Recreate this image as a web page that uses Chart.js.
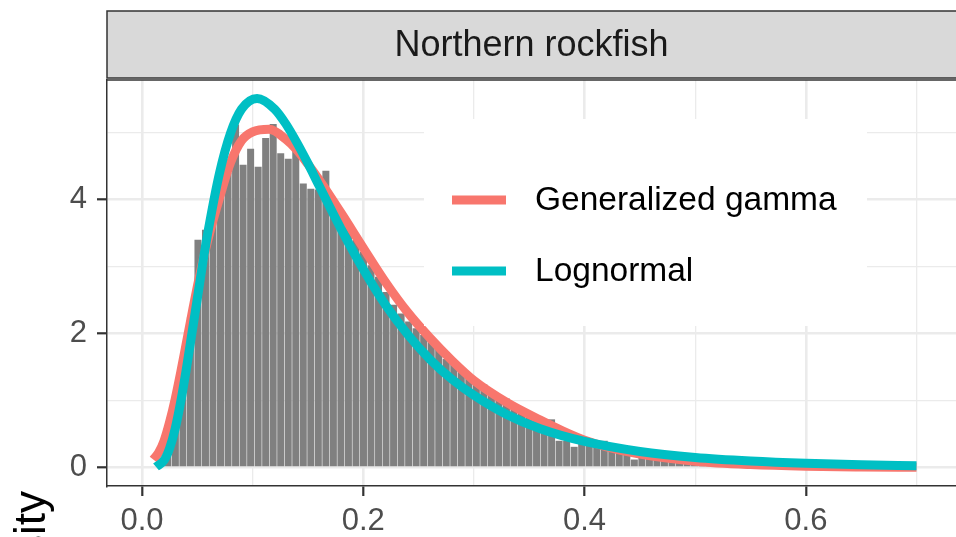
<!DOCTYPE html>
<html>
<head>
<meta charset="utf-8">
<script src="https://cdn.jsdelivr.net/npm/chart.js@4.4.0/dist/chart.umd.min.js"></script>
<style>
  html, body { margin: 0; padding: 0; background: #fff; }
  #wrap { width: 956px; height: 537px; }
</style>
</head>
<body>
<div id="wrap"><canvas id="densityChart" width="956" height="537"></canvas></div>
<script>
// histogram: first bin centre and bin width (x units), then densities per bin
const binStart = 0.0166;
const binWidth = 0.0068;
const densityHist = [
  0.05, 0.40, 0.95, 1.55, 2.25, 3.40, 3.55, 3.95, 4.25, 4.40,
  5.12, 4.52, 4.76, 4.49, 4.92, 5.13, 4.69, 4.61, 4.75, 4.24,
  4.16, 4.15, 4.43, 3.95, 3.80, 3.62, 3.40, 3.22, 3.02, 2.85,
  2.62, 2.43, 2.30, 2.18, 2.08, 1.98, 1.94, 1.80, 1.62, 1.59,
  1.45, 1.38, 1.30, 1.24, 1.13, 1.04, 1.03, 0.91, 0.84, 0.80,
  0.78, 0.72, 0.72, 0.40, 0.40, 0.31, 0.36, 0.44, 0.40, 0.40,
  0.30, 0.27, 0.24, 0.12, 0.20, 0.17, 0.15, 0.13, 0.11, 0.10,
  0.08, 0.07, 0.06, 0.05, 0.04, 0.04, 0.03, 0.03, 0.02, 0.02,
  0.02, 0.01, 0.01, 0.01, 0.01, 0.01, 0.01, 0.01, 0.00, 0.01,
  0.00, 0.00, 0.01, 0.00, 0.00, 0.00, 0.00, 0.00, 0.00, 0.00,
  0.00
];

// fitted curves
const gammaX = [0.0102, 0.015, 0.02, 0.025, 0.03, 0.035, 0.04, 0.045, 0.05, 0.055,
  0.06, 0.07, 0.08, 0.09, 0.10, 0.115, 0.13, 0.14, 0.15, 0.16, 0.18, 0.20,
  0.22, 0.24, 0.26, 0.28, 0.30, 0.33, 0.36, 0.38, 0.40, 0.42, 0.45, 0.50, 0.55, 0.60, 0.65, 0.70];
const gammaY = [0.12, 0.22, 0.40, 0.68, 1.02, 1.42, 1.85, 2.28, 2.70, 3.08,
  3.43, 4.02, 4.55, 4.88, 5.01, 5.05, 4.90, 4.74, 4.53, 4.30, 3.80, 3.28,
  2.77, 2.32, 1.94, 1.60, 1.30, 0.97, 0.71, 0.55, 0.41, 0.31, 0.20, 0.095, 0.045, 0.02, 0.009, 0.004];

const lognormX = [0.0127, 0.02, 0.025, 0.03, 0.035, 0.04, 0.045, 0.05, 0.055, 0.06,
  0.07, 0.08, 0.09, 0.104, 0.12, 0.13, 0.14, 0.15, 0.16, 0.18, 0.20, 0.22,
  0.24, 0.26, 0.28, 0.30, 0.33, 0.36, 0.40, 0.45, 0.50, 0.55, 0.60, 0.65, 0.70];
const lognormY = [0.01, 0.11, 0.29, 0.58, 0.98, 1.46, 1.99, 2.52, 3.06, 3.55,
  4.39, 4.99, 5.35, 5.51, 5.35, 5.13, 4.85, 4.54, 4.21, 3.56, 2.96, 2.43,
  1.99, 1.62, 1.32, 1.08, 0.79, 0.58, 0.39, 0.24, 0.15, 0.097, 0.063, 0.042, 0.028];

const xTickLabels = [0, 0.2, 0.4, 0.6];
const yTickLabels = [0, 2, 4];
const facetTitle = 'Northern rockfish';
const yTitle = 'Density';

const FONT = "'Liberation Sans', Arial, sans-serif";
const GAMMA_COL = '#F8766D';
const LNORM_COL = '#00BFC4';

const histPoints = densityHist.map((v, i) => ({ x: +(binStart + i * binWidth).toFixed(4), y: v }));
const gammaPoints = gammaX.map((x, i) => ({ x: x, y: gammaY[i] }));
const lognormPoints = lognormX.map((x, i) => ({ x: x, y: lognormY[i] }));

const isTick = (list, v) => list.some(t => Math.abs(t - v) < 1e-6);

const decor = {
  id: 'decor',
  beforeDraw(chart) {
    const c = chart.ctx;
    c.save();
    c.fillStyle = '#fff';
    c.fillRect(0, 0, chart.width, chart.height);
    c.restore();
  },
  afterDatasetsDraw(chart) {
    // legend inside the panel
    const c = chart.ctx, a = chart.chartArea;
    const lx = a.left + 317, ly = a.top + 39;
    c.save();
    c.fillStyle = '#fff';
    c.fillRect(lx, ly, 443, 207);
    const items = [['Generalized gamma', GAMMA_COL], ['Lognormal', LNORM_COL]];
    items.forEach((it, i) => {
      const y = ly + 81 + i * 71;
      c.strokeStyle = it[1];
      c.lineWidth = 9;
      c.beginPath();
      c.moveTo(lx + 28, y);
      c.lineTo(lx + 82, y);
      c.stroke();
      c.fillStyle = '#000';
      c.font = '33.5px ' + FONT;
      c.textBaseline = 'middle';
      c.textAlign = 'left';
      c.fillText(it[0], lx + 111, y + 1);
    });
    c.restore();
  },
  afterDraw(chart) {
    const c = chart.ctx, a = chart.chartArea;
    c.save();
    // facet strip
    c.fillStyle = '#D9D9D9';
    c.fillRect(a.left, 11, a.right - a.left + 5, 67);
    c.strokeStyle = '#333';
    c.lineWidth = 1.5;
    c.strokeRect(a.left, 11, a.right - a.left + 5, 67);
    c.fillStyle = '#1A1A1A';
    c.font = '36px ' + FONT;
    c.textAlign = 'center';
    c.textBaseline = 'middle';
    c.fillText(facetTitle, (a.left + a.right) / 2, 46);
    // panel top border
    c.beginPath();
    c.moveTo(a.left, a.top);
    c.lineTo(a.right + 5, a.top);
    c.stroke();
    // y axis title (mostly below the crop)
    c.translate(45, 491);
    c.rotate(-Math.PI / 2);
    c.fillStyle = '#000';
    c.font = '44px ' + FONT;
    c.textAlign = 'right';
    c.textBaseline = 'alphabetic';
    c.fillText(yTitle, 0, 0);
    c.restore();
  }
};

const ctx = document.getElementById('densityChart').getContext('2d');
new Chart(ctx, {
  data: {
    datasets: [
      { type: 'line', label: 'Lognormal', data: lognormPoints, borderColor: LNORM_COL, borderWidth: 9,
        pointRadius: 0, cubicInterpolationMode: 'monotone', borderJoinStyle: 'round', order: 1 },
      { type: 'line', label: 'Generalized gamma', data: gammaPoints, borderColor: GAMMA_COL, borderWidth: 9,
        pointRadius: 0, cubicInterpolationMode: 'monotone', borderJoinStyle: 'round', order: 2 },
      { type: 'bar', label: 'hist', data: histPoints, backgroundColor: '#808080',
        barPercentage: 0.93, categoryPercentage: 1, order: 3 }
    ]
  },
  options: {
    responsive: false,
    animation: false,
    devicePixelRatio: 1,
    layout: { padding: { top: 80, right: 0, left: 0, bottom: 0 } },
    plugins: { legend: { display: false }, tooltip: { enabled: false } },
    scales: {
      x: {
        type: 'linear', min: -0.0316, max: 0.7357, offset: false,
        ticks: {
          stepSize: 0.1, includeBounds: false, autoSkip: false, maxRotation: 0,
          callback: v => isTick(xTickLabels, v) ? v.toFixed(1) : '',
          font: { size: 31, family: FONT }, color: '#4D4D4D', padding: 7
        },
        grid: {
          offset: false,
          color: '#EBEBEB',
          lineWidth: c => (c.tick && isTick(xTickLabels, c.tick.value)) ? 2.6 : 1.3,
          tickLength: 10, tickWidth: 2.2,
          tickColor: c => (c.tick && isTick(xTickLabels, c.tick.value)) ? '#333' : 'rgba(0,0,0,0)'
        },
        border: { color: '#333', width: 1.5 },
        afterFit: s => { s.height = 51; }
      },
      y: {
        type: 'linear', min: -0.275, max: 5.785,
        ticks: {
          stepSize: 1, includeBounds: false,
          callback: v => isTick(yTickLabels, v) ? String(v) : '',
          font: { size: 31, family: FONT }, color: '#4D4D4D', padding: 10
        },
        grid: {
          color: '#EBEBEB',
          lineWidth: c => (c.tick && isTick(yTickLabels, c.tick.value)) ? 2.6 : 1.3,
          tickLength: 10, tickWidth: 2.2,
          tickColor: c => (c.tick && isTick(yTickLabels, c.tick.value)) ? '#333' : 'rgba(0,0,0,0)'
        },
        border: { color: '#333', width: 1.5 },
        afterFit: s => { s.width = 107; }
      }
    }
  },
  plugins: [decor]
});
</script>
</body>
</html>
